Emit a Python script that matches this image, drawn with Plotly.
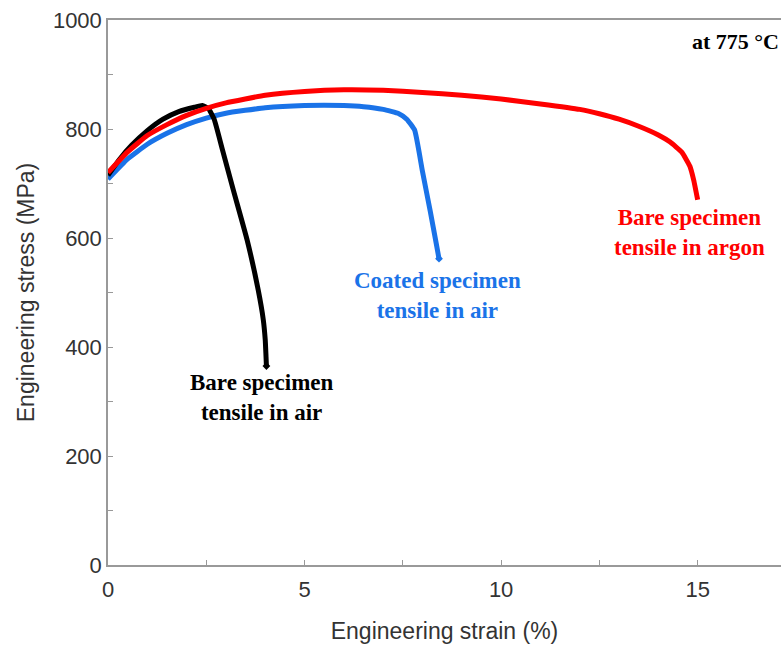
import plotly.graph_objects as go

# Bare specimen, tensile in air (black)
black_strain = [0.0, 0.3, 0.6, 1.0, 1.4, 1.8, 2.2, 2.4, 2.55, 2.7, 2.9, 3.18, 3.54, 3.82, 3.95, 4.0, 4.02, 4.03]
black_stress = [715, 745, 770, 797, 818, 832, 840, 843, 838, 818, 765, 690, 596, 505, 450, 413, 382, 365]

# Coated specimen, tensile in air (blue)
blue_strain = [0.0, 0.5, 1.0, 1.5, 2.0, 2.5, 3.0, 4.0, 5.0, 6.0, 6.5, 7.0, 7.4, 7.6, 7.8, 8.0, 8.2, 8.35, 8.42]
blue_stress = [708, 745, 772, 792, 808, 820, 829, 839, 843, 843, 841, 836, 828, 818, 798, 722, 648, 590, 562]

# Bare specimen, tensile in argon (red)
red_strain = [0.0, 0.5, 1.0, 1.5, 2.0, 2.5, 3.0, 4.0, 5.0, 6.0, 7.0, 8.0, 9.0, 10.0, 11.0, 12.0, 12.5, 13.0, 13.5, 14.0, 14.3, 14.6, 14.8, 14.9, 15.0]
red_stress = [720, 758, 788, 808, 825, 838, 848, 862, 869, 872, 871, 867, 862, 855, 846, 836, 828, 818, 805, 789, 776, 757, 732, 706, 670]

BLUE = "#1a73e8"
RED = "#ff0000"
BLACK = "#000000"

fig = go.Figure()
for xs, ys, col, marker_end in [
    (blue_strain, blue_stress, BLUE, True),
    (black_strain, black_stress, BLACK, True),
    (red_strain, red_stress, RED, False),
]:
    fig.add_trace(go.Scatter(x=xs, y=ys, mode="lines", line=dict(color=col, width=5, shape="spline", smoothing=0.4),
                             showlegend=False, hoverinfo="skip"))
    if marker_end:
        fig.add_trace(go.Scatter(x=[xs[-1]], y=[ys[-1]], mode="markers",
                                 marker=dict(color=col, size=6, symbol="diamond"),
                                 showlegend=False, hoverinfo="skip"))

serif = "Liberation Serif, Times New Roman, serif"
ann = [
    dict(x=17.12, y=960, text="<b>at 775 °C</b>", xanchor="right", color=BLACK, size=22),
    dict(x=14.8, y=611, text="<b>Bare specimen<br>tensile in argon</b>", xanchor="center", color=RED, size=23),
    dict(x=8.37, y=494, text="<b>Coated specimen<br>tensile in air</b>", xanchor="center", color=BLUE, size=23),
    dict(x=3.92, y=308, text="<b>Bare specimen<br>tensile in air</b>", xanchor="center", color=BLACK, size=23),
]
for a in ann:
    fig.add_annotation(x=a["x"], y=a["y"], text=a["text"], showarrow=False, xanchor=a["xanchor"],
                       yanchor="middle", align="center",
                       font=dict(family=serif, size=a["size"], color=a["color"]))

sans = "Liberation Sans, Arial, sans-serif"
axis_font = dict(family=sans, size=22, color="#333333")
fig.update_xaxes(range=[0, 17.12], tickvals=[0, 5, 10, 15], ticks="inside", ticklen=5, tickcolor="#999999",
                 showline=True, linecolor="#999999", linewidth=1.5, mirror=True, showgrid=False, zeroline=False,
                 tickfont=axis_font, ticklabelstandoff=4,
                 minor=dict(tickvals=[2.5, 7.5, 12.5], ticks="inside", ticklen=5, tickcolor="#999999"),
                 title=dict(text="Engineering strain (%)", font=dict(family=sans, size=23, color="#333333"), standoff=22))
fig.update_yaxes(range=[0, 1000], tickvals=[0, 200, 400, 600, 800, 1000], ticks="inside", ticklen=5, tickcolor="#999999",
                 showline=True, linecolor="#999999", linewidth=1.5, mirror=False, showgrid=False, zeroline=False,
                 tickfont=axis_font,
                 minor=dict(tickvals=[100, 300, 500, 700, 900], ticks="inside", ticklen=5, tickcolor="#999999"),
                 title=dict(text="Engineering stress (MPa)", font=dict(family=sans, size=23, color="#333333"), standoff=12))

fig.update_layout(width=781, height=646, margin=dict(l=108, r=0, t=20, b=81),
                  plot_bgcolor="white", paper_bgcolor="white")
fig.write_html("out.html")
